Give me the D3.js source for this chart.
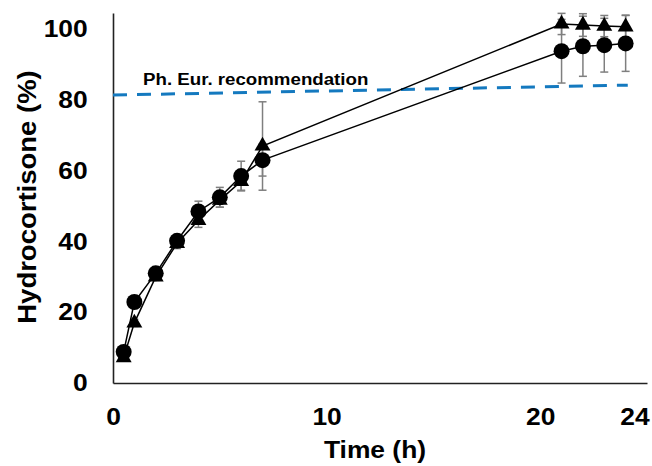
<!DOCTYPE html>
<html>
<head>
  <meta charset="utf-8">
  <title>Hydrocortisone release</title>
  <script src="https://cdnjs.cloudflare.com/ajax/libs/d3/7.8.5/d3.min.js"></script>
  <style>
    body { margin: 0; background: #fff; }
    text { font-family: Arial, "Liberation Sans", sans-serif; font-weight: bold; fill: #000; }
  </style>
</head>
<body>
<div id="chart"></div>
<script>

// sampling times (h)
var times = [0.5, 1, 2, 3, 4, 5, 6, 7, 21, 22, 23, 24];

// circle series: mean and sd (%)
var circleMean = [8.8, 22.9, 31.0, 40.2, 48.5, 52.5, 58.5, 63.0, 93.8, 95.2, 95.5, 96.0];
var circleSd   = [1.0, 1.0, 1.0, 1.5, 2.9, 2.8, 4.2, 4.5, 9.0, 8.5, 7.6, 7.9];

// triangle series
var triMean = [7.2, 17.0, 30.0, 39.5, 46.0, 51.7, 57.0, 67.0, 101.5, 101.2, 100.9, 100.7];
var triSd   = [1.0, 1.0, 1.0, 1.5, 2.0, 2.0, 2.5, 12.5, 3.0, 3.2, 3.0, 3.3];

// Ph. Eur. reference line (end points)
var refTimes = [0, 24.1];
var refValues = [81.4, 84.2];

var xTicks = [0, 10, 20, 24];
var yTicks = [0, 20, 40, 60, 80, 100];

var width = 652, height = 466;

var svg = d3.select('#chart').append('svg')
            .attr('width', width)
            .attr('height', height);

var x = d3.scaleLinear().domain([0, 25]).range([113, 647]);
var y = d3.scaleLinear().domain([0, 104.6]).range([383, 13]);

// axes
var xAxis = svg.append('g')
    .attr('transform', 'translate(0,' + y(0) + ')')
    .call(d3.axisBottom(x).tickValues(xTicks).tickSize(0).tickPadding(25).tickFormat(d3.format('d')));

var yAxis = svg.append('g')
    .attr('transform', 'translate(' + x(0) + ',0)')
    .call(d3.axisLeft(y).tickValues(yTicks).tickSize(0).tickPadding(23).tickFormat(d3.format('d')));

[xAxis, yAxis].forEach(function(a) {
  a.select('.domain').attr('stroke', '#222').attr('stroke-width', 1.6);
  a.selectAll('text')
   .attr('font-size', 24)
   .attr('transform', 'scale(1.1,1)')
   .style('font-family', 'Arial, "Liberation Sans", sans-serif');
});
// Excel nudged the last label to the right
xAxis.selectAll('text').attr('x', function(d) { return d === 24 ? 8 : 0; });

// reference line
var refData = refTimes.map(function(t, i) { return [t, refValues[i]]; });
svg.append('path')
   .datum(refData)
   .attr('fill', 'none')
   .attr('stroke', '#1479bf')
   .attr('stroke-width', 3)
   .attr('stroke-dasharray', '14,10')
   .attr('d', d3.line().x(function(d) { return x(d[0]); }).y(function(d) { return y(d[1]); }));

svg.append('text')
   .attr('transform', 'translate(143,85) scale(1.1,1)')
   .attr('font-size', 17)
   .text('Ph. Eur. recommendation');

var series = [
  {mean: circleMean, sd: circleSd, shape: 'circle'},
  {mean: triMean, sd: triSd, shape: 'triangle'}
];

// error bars first, so they sit behind markers
series.forEach(function(s) {
  var g = svg.append('g').attr('stroke', '#7f7f7f').attr('stroke-width', 1.5);
  times.forEach(function(t, i) {
    var top = y(s.mean[i] + s.sd[i]), bot = y(s.mean[i] - s.sd[i]), cx = x(t);
    g.append('line').attr('x1', cx).attr('x2', cx).attr('y1', top).attr('y2', bot);
    g.append('line').attr('x1', cx - 4).attr('x2', cx + 4).attr('y1', top).attr('y2', top);
    g.append('line').attr('x1', cx - 4).attr('x2', cx + 4).attr('y1', bot).attr('y2', bot);
  });
});

var line = d3.line()
             .x(function(d) { return x(d[0]); })
             .y(function(d) { return y(d[1]); });

series.forEach(function(s) {
  var pts = times.map(function(t, i) { return [t, s.mean[i]]; });
  svg.append('path')
     .datum(pts)
     .attr('fill', 'none')
     .attr('stroke', '#000')
     .attr('stroke-width', 1.5)
     .attr('d', line);
});

series.forEach(function(s) {
  var pts = times.map(function(t, i) { return [t, s.mean[i]]; });
  var sym = d3.symbol().type(s.shape === 'circle' ? d3.symbolCircle : d3.symbolTriangle)
                       .size(s.shape === 'circle' ? 200 : 110);
  svg.append('g').selectAll('path')
     .data(pts)
     .enter()
     .append('path')
     .attr('transform', function(d) { return 'translate(' + x(d[0]) + ',' + y(d[1]) + ')'; })
     .attr('d', sym)
     .attr('fill', '#000');
});

// axis titles
svg.append('text')
   .attr('transform', 'translate(36,197) rotate(-90) scale(1.1,1)')
   .attr('text-anchor', 'middle')
   .attr('font-size', 25)
   .text('Hydrocortisone (%)');

svg.append('text')
   .attr('transform', 'translate(375,458) scale(1.1,1)')
   .attr('text-anchor', 'middle')
   .attr('font-size', 24)
   .text('Time (h)');

</script>
</body>
</html>
